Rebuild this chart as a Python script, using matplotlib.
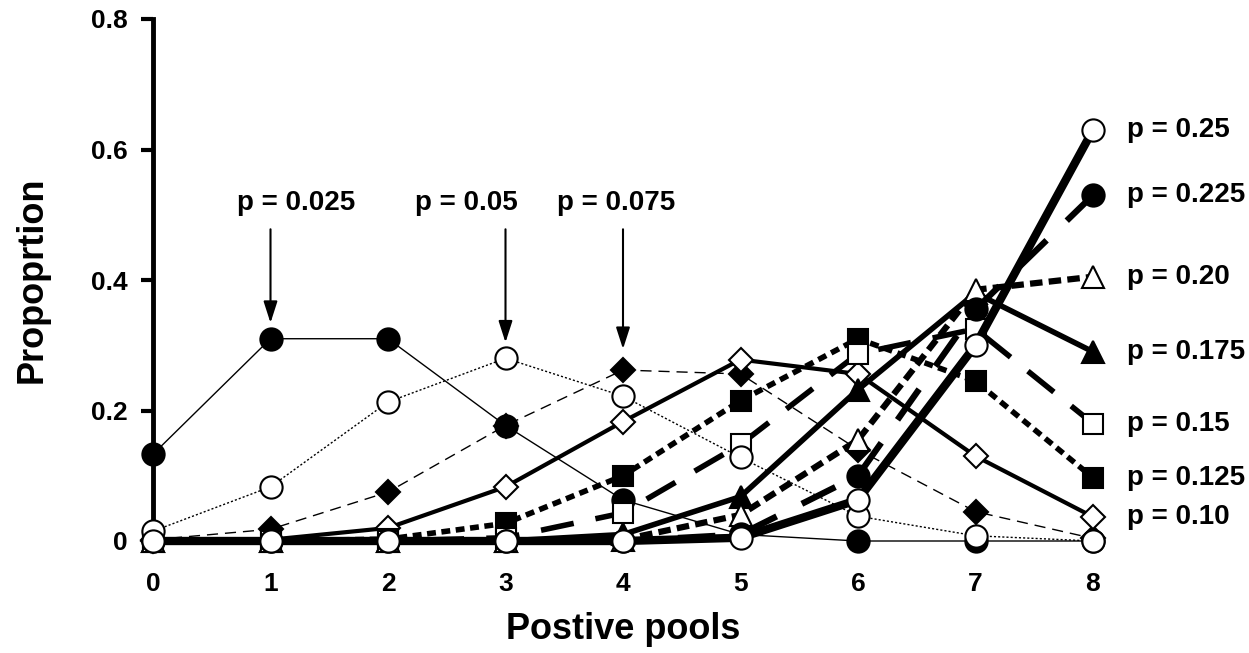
import numpy as np
import matplotlib.pyplot as plt

plt.rcParams['font.family'] = ['Liberation Sans', 'DejaVu Sans']
plt.rcParams['font.weight'] = 'bold'

pools = [0, 1, 2, 3, 4, 5, 6, 7, 8]

p025 = [0.133, 0.31, 0.31, 0.177, 0.063, 0.01, 0.0, 0.0, 0.0]
p050 = [0.015, 0.083, 0.213, 0.28, 0.222, 0.128, 0.038, 0.008, 0.0]
p075 = [0.002, 0.018, 0.075, 0.177, 0.262, 0.256, 0.14, 0.045, 0.004]
p100 = [0.0, 0.002, 0.02, 0.083, 0.183, 0.278, 0.256, 0.13, 0.037]
p125 = [0.0, 0.0, 0.003, 0.027, 0.1, 0.215, 0.31, 0.245, 0.097]
p150 = [0.0, 0.0, 0.0, 0.005, 0.043, 0.148, 0.287, 0.325, 0.18]
p175 = [0.0, 0.0, 0.0, 0.0, 0.01, 0.068, 0.232, 0.38, 0.29]
p200 = [0.0, 0.0, 0.0, 0.0, 0.002, 0.04, 0.155, 0.385, 0.405]
p225 = [0.0, 0.0, 0.0, 0.0, 0.0, 0.01, 0.1, 0.355, 0.53]
p250 = [0.0, 0.0, 0.0, 0.0, 0.0, 0.005, 0.063, 0.3, 0.63]

left_labels = ['p = 0.025', 'p = 0.05', 'p = 0.075']
right_labels = ['p = 0.10', 'p = 0.125', 'p = 0.15', 'p = 0.175',
                'p = 0.20', 'p = 0.225', 'p = 0.25']

# (values, marker, filled, linewidth, linestyle, zorder)
series = [
    (p025, 'o', True, 1.0, '-', 3),
    (p050, 'o', False, 1.0, (0, (1.5, 1.5)), 12),
    (p075, 'D', True, 1.0, (0, (8, 5)), 4),
    (p100, 'D', False, 3.0, '-', 5),
    (p125, 's', True, 4.0, (0, (1.6, 1.0)), 6),
    (p150, 's', False, 4.0, (0, (6, 4)), 7),
    (p175, '^', True, 4.0, '-', 8),
    (p200, '^', False, 4.5, (0, (2.0, 1.0)), 9),
    (p225, 'o', True, 4.5, (0, (6, 4.5)), 10),
    (p250, 'o', False, 6.0, '-', 13),
]
marker_size = {'o': 16, 'D': 12.5, 's': 14, '^': 16}

fig = plt.figure(figsize=(12.49, 6.53), dpi=100)
ax = fig.add_axes([153 / 1249, 112 / 653, 940 / 1249, 522 / 653])

for vals, mk, filled, lw, ls, z in series:
    ax.plot(pools, vals, color='black', lw=lw, linestyle=ls,
            marker=mk, markersize=marker_size[mk], markeredgewidth=1.5,
            markerfacecolor='black' if filled else 'white',
            markeredgecolor='black', clip_on=False, zorder=z)

ax.set_xlim(0, 8)
ax.set_ylim(0, 0.8)
ax.set_yticks([0, 0.2, 0.4, 0.6, 0.8])
ax.set_yticklabels(['0', '0.2', '0.4', '0.6', '0.8'])
ax.set_xticks(pools)
ax.tick_params(axis='y', direction='out', length=9, width=3, labelsize=19, pad=9)
ax.tick_params(axis='x', length=0, labelsize=19, pad=22)
for side in ['top', 'right', 'bottom']:
    ax.spines[side].set_visible(False)
ax.spines['left'].set_linewidth(3.5)
ax.spines['left'].set_zorder(2)

ax.set_xlabel('Postive pools', fontsize=26, fontweight='bold', labelpad=12)
ax.set_ylabel('Propoprtion', fontsize=26, fontweight='bold', labelpad=30)

# arrows for the low p series
arrow_x = [1, 3, 4]
arrow_tip = [0.33, 0.30, 0.29]
text_x = [1.22, 2.67, 3.94]
for lab, xa, tip, xt in zip(left_labels, arrow_x, arrow_tip, text_x):
    ax.text(xt, 0.518, lab, ha='center', va='center', fontsize=20, fontweight='bold')
    ax.annotate('', xy=(xa, tip), xytext=(xa, 0.482),
                arrowprops=dict(arrowstyle='-|>,head_length=0.87,head_width=0.28',
                                color='black', lw=1.5, mutation_scale=15),
                annotation_clip=False)

right_series = [p100, p125, p150, p175, p200, p225, p250]
for lab, vals in zip(right_labels, right_series):
    ax.text(8.29, vals[-1], lab, ha='left', va='center', fontsize=20,
            fontweight='bold')

fig.savefig('out.png', dpi=100)
